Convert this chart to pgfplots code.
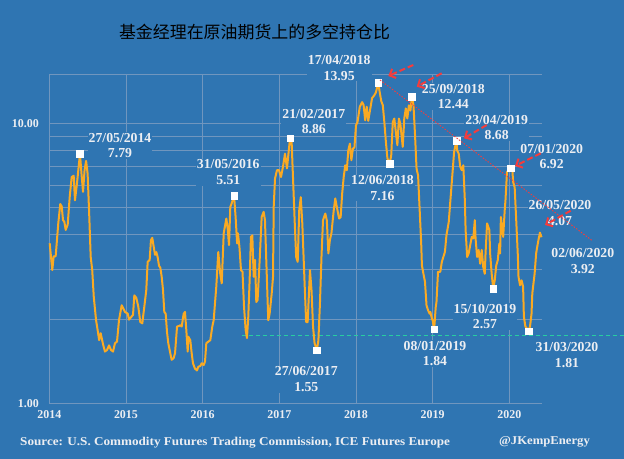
\documentclass[border=0pt]{standalone}
\usepackage{pgfplots}
\pgfplotsset{compat=1.18}
\usepackage{graphicx}
\usepackage{fontspec}
\setmainfont{Liberation Serif}
\newfontfamily\cjk{Noto Sans CJK SC}
\usetikzlibrary{arrows.meta}
\definecolor{bg}{RGB}{47,117,178}
\definecolor{gridc}{RGB}{112,150,190}
\definecolor{lineo}{RGB}{250,170,35}
\definecolor{txt}{RGB}{236,238,242}
\definecolor{redc}{RGB}{245,60,60}
\definecolor{greenc}{RGB}{40,205,160}
\begin{document}
\begin{tikzpicture}
\fill[bg] (0bp,0bp) rectangle (624bp,459bp);
\begin{axis}[
  at={(49.3bp,55.7bp)}, anchor=south west,
  scale only axis, width=492.2bp, height=329.3bp,
  xmin=2014, xmax=2020.42, ymode=log, ymin=1, ymax=15,
  clip=false,
  axis x line*=bottom, axis y line*=left,
  axis line style={gridc, line width=0.9bp, -},
  xtick={2014,2015,2016,2017,2018,2019,2020},
  xticklabels={2014,2015,2016,2017,2018,2019,2020},
  ytick={1,10}, yticklabels={1.00,10.00},
  minor ytick={2,3,4,5,6,7,8,9},
  extra y ticks={15}, extra y tick labels={},
  extra y tick style={ymajorgrids=true, yminorgrids=false},
  xmajorgrids, ymajorgrids, yminorgrids,
  major grid style={gridc, line width=0.8bp},
  minor grid style={gridc, line width=0.8bp},
  major tick length=0pt, minor tick length=0pt,
  ticklabel style={font=\bfseries\fontsize{12}{14}\selectfont, text=txt},
  xticklabel style={yshift=-4bp},
  yticklabel style={xshift=-7bp},
]
\addplot[greenc, line width=1.4bp, dash pattern=on 4bp off 3bp] coordinates {(2016.51,1.75) (2021.49,1.75)};
\addplot[lineo, line width=2bp, line join=round, mark=none] coordinates {
(2014.005,3.73) (2014.039,2.99) (2014.057,3.35) (2014.083,3.35) (2014.117,4.39)
(2014.143,5.15) (2014.162,5.05) (2014.179,4.51) (2014.196,4.45) (2014.214,4.16)
(2014.240,4.35) (2014.266,5.45) (2014.292,6.43) (2014.318,6.50) (2014.335,5.31)
(2014.361,6.10) (2014.40,7.79) (2014.42,6.60) (2014.44,5.69) (2014.46,6.80)
(2014.48,7.34) (2014.50,6.60) (2014.52,4.76) (2014.54,3.33) (2014.56,2.99)
(2014.58,2.40) (2014.61,1.98) (2014.63,1.83) (2014.65,1.68) (2014.67,1.78)
(2014.70,1.63) (2014.726,1.53) (2014.753,1.55) (2014.779,1.61) (2014.805,1.55)
(2014.831,1.53) (2014.857,1.64) (2014.883,1.66) (2014.909,1.98) (2014.944,2.24)
(2014.987,2.12) (2015.023,2.09) (2015.040,1.99) (2015.066,2.03) (2015.092,2.07)
(2015.109,2.43) (2015.135,2.38) (2015.161,2.21) (2015.187,1.95) (2015.213,1.93)
(2015.239,2.21) (2015.265,2.54) (2015.283,3.20) (2015.309,3.25) (2015.326,3.83)
(2015.343,3.90) (2015.362,3.62) (2015.379,3.39) (2015.396,3.47) (2015.413,3.33)
(2015.431,3.10) (2015.448,3.05) (2015.466,2.83) (2015.483,2.54) (2015.500,2.12)
(2015.518,2.09) (2015.535,1.80) (2015.552,1.64) (2015.578,1.51) (2015.596,1.43)
(2015.622,1.45) (2015.640,1.51) (2015.666,1.88) (2015.692,1.89) (2015.709,1.90)
(2015.727,1.88) (2015.753,2.09) (2015.770,2.12) (2015.787,1.83) (2015.805,1.53)
(2015.813,1.73) (2015.839,1.68) (2015.857,1.51) (2015.874,1.39) (2015.900,1.33)
(2015.926,1.31) (2015.943,1.35) (2015.970,1.36) (2015.988,1.39) (2016.014,1.37)
(2016.031,1.41) (2016.048,1.64) (2016.074,1.66) (2016.100,1.68) (2016.126,1.88)
(2016.144,1.98) (2016.178,2.61) (2016.204,3.47) (2016.230,2.90) (2016.249,2.68)
(2016.275,4.05) (2016.309,4.57) (2016.327,4.20) (2016.344,3.67) (2016.361,5.03)
(2016.379,5.18) (2016.41,5.51) (2016.43,4.63) (2016.45,3.72) (2016.46,4.05)
(2016.48,3.62) (2016.50,2.99) (2016.52,2.95) (2016.54,2.21) (2016.561,1.83)
(2016.578,1.71) (2016.595,2.03) (2016.613,2.75) (2016.630,3.93) (2016.648,3.98)
(2016.666,2.83) (2016.683,3.25) (2016.700,2.30) (2016.717,2.34) (2016.744,3.25)
(2016.770,4.63) (2016.796,4.83) (2016.813,4.51) (2016.830,3.25) (2016.856,1.98)
(2016.874,2.09) (2016.901,2.47) (2016.918,2.83) (2016.927,5.03) (2016.944,6.35)
(2016.970,6.80) (2016.996,6.80) (2017.022,6.43) (2017.048,6.99) (2017.074,7.79)
(2017.100,6.90) (2017.14,8.86) (2017.16,8.69) (2017.18,6.26) (2017.20,4.51)
(2017.22,3.33) (2017.24,3.20) (2017.26,4.89) (2017.28,5.45) (2017.30,4.39)
(2017.33,2.68) (2017.35,1.95) (2017.37,1.95) (2017.40,2.99) (2017.42,2.54)
(2017.44,1.88) (2017.46,1.64) (2017.49,1.55) (2017.51,1.68) (2017.53,2.27)
(2017.55,3.33) (2017.57,4.51) (2017.60,4.76) (2017.62,4.50) (2017.64,3.43)
(2017.66,3.83) (2017.68,4.05) (2017.71,4.89) (2017.73,5.39) (2017.75,5.03)
(2017.78,4.57) (2017.80,4.62) (2017.82,5.61) (2017.84,6.43) (2017.86,7.08)
(2017.88,6.80) (2017.90,8.00) (2017.92,8.46) (2017.94,7.38) (2017.96,8.12)
(2017.98,8.20) (2018.00,9.83) (2018.02,10.10) (2018.05,11.46) (2018.08,11.90)
(2018.10,11.60) (2018.12,10.25) (2018.14,11.46) (2018.16,10.20) (2018.18,11.00)
(2018.21,12.30) (2018.24,12.60) (2018.26,12.90) (2018.29,13.95) (2018.31,12.90)
(2018.33,12.00) (2018.35,11.60) (2018.37,10.10) (2018.39,8.60) (2018.41,7.50)
(2018.44,7.16) (2018.46,7.70) (2018.48,10.10) (2018.50,10.40) (2018.52,9.30)
(2018.54,8.35) (2018.56,10.40) (2018.58,9.90) (2018.61,8.24) (2018.63,10.40)
(2018.65,11.30) (2018.67,10.40) (2018.69,11.60) (2018.71,11.10) (2018.73,12.44)
(2018.75,11.60) (2018.77,9.12) (2018.79,6.89) (2018.81,6.52) (2018.83,4.96)
(2018.85,3.77) (2018.86,3.11) (2018.88,2.90) (2018.90,2.72) (2018.92,2.24)
(2018.94,2.15) (2018.96,2.09) (2018.97,2.12) (2018.99,2.01) (2019.00,1.98)
(2019.02,1.84) (2019.04,2.20) (2019.05,2.30) (2019.07,2.95) (2019.10,2.95)
(2019.12,3.20) (2019.16,3.47) (2019.18,3.98) (2019.21,4.44) (2019.23,5.24)
(2019.26,6.70) (2019.28,7.90) (2019.31,8.68) (2019.32,8.00) (2019.34,7.79)
(2019.36,6.99) (2019.38,6.80) (2019.40,7.08) (2019.42,5.31) (2019.43,4.16)
(2019.45,3.33) (2019.47,3.43) (2019.49,3.67) (2019.51,3.93) (2019.53,3.88)
(2019.55,4.51) (2019.56,3.88) (2019.58,3.33) (2019.60,3.53) (2019.62,3.15)
(2019.64,3.53) (2019.66,3.07) (2019.68,2.90) (2019.69,3.43) (2019.71,4.39)
(2019.74,4.16) (2019.75,3.43) (2019.77,2.90) (2019.79,2.57) (2019.81,2.75)
(2019.83,3.11) (2019.85,3.25) (2019.87,3.72) (2019.88,3.43) (2019.89,4.63)
(2019.92,3.93) (2019.94,4.89) (2019.95,5.31) (2019.97,6.70) (2019.99,6.80)
(2020.02,6.92) (2020.04,6.80) (2020.05,6.18) (2020.07,5.90) (2020.09,4.51)
(2020.11,3.43) (2020.12,2.83) (2020.14,2.64) (2020.16,2.75) (2020.18,2.61)
(2020.19,2.04) (2020.21,1.88) (2020.23,1.85) (2020.25,1.81) (2020.27,1.88)
(2020.29,2.09) (2020.30,2.47) (2020.33,2.90) (2020.35,3.43) (2020.36,3.57)
(2020.38,3.83) (2020.40,4.07) (2020.42,3.92)
};
\addplot[only marks, mark=square*, mark size=3.3bp, mark options={fill=white, draw=white}] coordinates {
(2014.40,7.79) (2016.41,5.51) (2017.14,8.86) (2017.49,1.55) (2018.29,13.95)
(2018.44,7.16) (2018.73,12.44) (2019.02,1.84) (2019.31,8.68) (2019.79,2.57)
(2020.02,6.92) (2020.25,1.81)
};
\end{axis}
% annotation labels
\tikzset{lab/.style={font=\bfseries\fontsize{13.8}{15.6}\selectfont, text=txt, align=center, fill=bg, inner sep=1bp}}
\node[lab] at (120bp,313.5bp) {27/05/2014\\7.79};
\node[lab] at (228.3bp,286.8bp) {31/05/2016\\5.51};
\node[lab] at (313.8bp,337.5bp) {21/02/2017\\8.86};
\node[lab] at (339.2bp,391.2bp) {17/04/2018\\13.95};
\node[lab] at (453.3bp,362.3bp) {25/09/2018\\12.44};
\node[lab] at (382.5bp,271bp) {12/06/2018\\7.16};
\node[lab] at (496.7bp,331.5bp) {23/04/2019\\8.68};
\node[lab] at (551.7bp,302.5bp) {07/01/2020\\6.92};
\node[lab] at (560bp,245.7bp) {26/05/2020\\4.07};
\node[lab] at (582.8bp,198.2bp) {02/06/2020\\3.92};
\node[lab] at (485bp,142.5bp) {15/10/2019\\2.57};
\node[lab] at (435bp,105.5bp) {08/01/2019\\1.84};
\node[lab] at (567bp,104.2bp) {31/03/2020\\1.81};
\node[lab] at (306.3bp,79.8bp) {27/06/2017\\1.55};
% trend line and arrows
\draw[redc, line width=0.9bp, dash pattern=on 1.5bp off 1.5bp] (380bp,379bp) -- (592.7bp,218bp);
\tikzset{arr/.style={redc, line width=2bp, dash pattern=on 6bp off 3bp, -{Straight Barb[length=5bp,width=10bp,line width=2bp]}}}
\draw[arr] (413.3bp,394bp) -- (388.3bp,383bp);
\draw[arr] (441.7bp,385.7bp) -- (416.7bp,372.3bp);
\draw[arr] (486.7bp,334bp) -- (464bp,320.7bp);
\draw[arr] (540.7bp,305.7bp) -- (515bp,293bp);
\draw[arr] (570.7bp,248.3bp) -- (545bp,234bp);
% title and source
\node[font=\cjk\fontsize{17}{20}\selectfont, text=black] at (254.5bp,426.7bp) {基金经理在原油期货上的多空持仓比};
\node[anchor=west, font=\bfseries\fontsize{12}{14}\selectfont, text=txt, inner sep=0pt] at (20bp,16.7bp) {\scalebox{1.1}[1]{Source: U.S. Commodity Futures Trading Commission, ICE Futures Europe}};
\node[anchor=west, font=\bfseries\fontsize{12}{14}\selectfont, text=txt, inner sep=0pt] at (499bp,16.7bp) {\scalebox{1.06}[1]{@JKempEnergy}};
\pgfresetboundingbox
\path[use as bounding box] (0bp,0bp) rectangle (624bp,459bp);
\end{tikzpicture}
\end{document}
